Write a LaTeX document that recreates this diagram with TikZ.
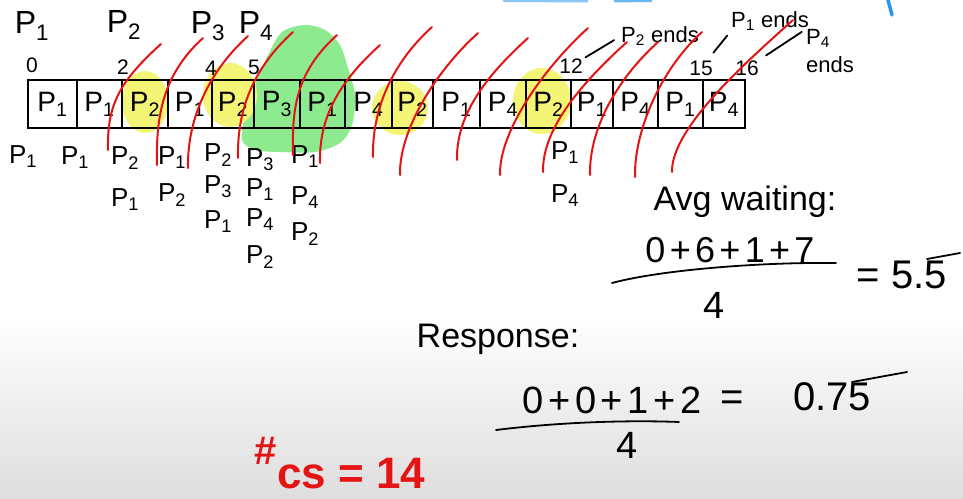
\documentclass[tikz,border=0pt]{standalone}
\usepackage{fontspec}
\setmainfont{Liberation Sans}
\usetikzlibrary{positioning,backgrounds}

\definecolor{penred}{RGB}{228,20,20}
\definecolor{hiyellow}{RGB}{244,244,118}
\definecolor{higreen}{RGB}{142,234,142}
\definecolor{penblue}{RGB}{40,150,235}

\newcommand{\proc}[1]{P\textsubscript{#1}}
\newcommand{\pl}{\hspace{0.12em}+\hspace{0.12em}}

\begin{document}
\begin{tikzpicture}[
    x=1pt, y=-1pt,
    hand/.style={font=\fontsize{#1}{#1}\selectfont, inner sep=0pt},
    hand/.default=26,
    cell/.style={
        draw=black,
        line width=1.4pt,
        minimum height=48pt,
        inner sep=0pt,
        font=\fontsize{28}{28}\selectfont
    },
    queue/.style={hand=26},
    tick/.style={hand=21},
    note/.style={hand=22, align=left, font=\fontsize{22}{28}\selectfont},
    calc/.style={hand=34, anchor=base},
    penline/.style={line width=1.8pt, line cap=round},
    cswitch/.style={draw=penred, line width=2pt, line cap=round}
]

\useasboundingbox (0,0) rectangle (963,498);

% gantt chart
\foreach \a/\b/\p [count=\i] in {28/77/1, 77/122/1, 122/168/2, 168/212/1, 212/254/2, 254/300/3,
    300/345/1, 345/392/4, 392/433/2, 433/480/1, 480/526/4, 526/571/2, 571/613/1, 613/658/4,
    658/703/1, 703/745/4}
    \node[cell, minimum width={(\b-\a)*1pt}] (c\i) at ({(\a+\b)/2},104) {\proc{\p}};

% arrivals
\node[hand=32] (arr1) at (32,26) {\proc{1}};
\node[hand=32] (arr2) at (124,25) {\proc{2}};
\node[hand=32] (arr3) at (208,26) {\proc{3}};
\node[hand=32] (arr4) at (256,26) {\proc{4}};

\node[tick] (t0) at (32,65) {0};
\node[tick] (t2) at (123,67) {2};
\node[tick] (t4) at (211,68) {4};
\node[tick] (t5) at (254,67) {5};
\node[tick] (t12) at (571,66) {12};
\node[tick] (t15) at (701,68) {15};
\node[tick] (t16) at (747,68) {16};

% ready queue under the chart
\foreach \x/\y/\p [count=\i] in {23/157/1, 75/158/1, 125/158/2, 125/200/1, 172/158/1, 172/195/2,
    218/155/2, 218/187/3, 218/222/1, 260/160/3, 260/190/1, 260/220/4, 260/257/2,
    305/157/1, 305/198/4, 305/234/2, 565/153/1, 565/196/4}
    \node[queue] (q\i) at (\x,\y) {\proc{\p}};

% completion notes
\node[note] (p2end) at (660,36) {\proc{2} ends};
\node[note] (p1end) at (770,21) {\proc{1} ends};
\node[note] (p4end) at (830,51) {\proc{4}\\ends};

\draw[penline, shorten <=3pt, shorten >=8pt] (t12) -- (p2end.west);
\draw[penline, shorten <=10pt, shorten >=6pt] (t15) -- (p1end.south west);
\draw[penline, shorten <=9pt, shorten >=5pt] (t16) -- (p4end.north west);

% averages
\node[calc] (avg) at (745,210) {Avg waiting:};
\node[calc, hand=36] (wnum) at (730,262) {0\pl 6\pl 1\pl 7};
\node[calc, hand=38] (wden) at (714,318) {4};
\node[calc, hand=40] (wres) at (902,288) {= 5.5};
\draw[penline] (612,283) .. controls (660,270) and (760,262) .. (836,263);
\draw[penline] (927,259) -- (960,253);

\node[calc] (resp) at (498,347) {Response:};
\node[calc, hand=38] (rnum) at (612,413) {0\pl 0\pl 1\pl 2};
\node[calc, hand=38] (rden) at (627,458) {4};
\node[calc, hand=40] (rres) at (796,410) {=\hspace{49pt}0.75};
\draw[penline] (496,430) .. controls (560,422) and (630,420) .. (679,422);
\draw[penline] (852,382) -- (907,372);

\node[calc, text=penred, font=\bfseries\fontsize{44}{44}\selectfont] (cs) at (340,488)
    {\raisebox{24pt}{\fontsize{40}{40}\selectfont\#}cs = 14};

% context switches
\foreach \bx/\by/\tx/\ty in {108/150/161/44, 157/165/203/38, 188/168/248/36, 238/158/293/32,
    293/155/337/35, 320/163/380/45, 373/157/432/27, 400/175/478/33, 457/160/528/38,
    500/175/588/28, 543/172/627/42, 590/175/658/42, 635/177/702/32, 672/172/793/20}
    \draw[cswitch] (\bx,\by) .. controls (\bx-1,\by-45) and (\tx-42,\ty+38) .. (\tx,\ty);

\begin{scope}[on background layer]
\fill[white] (0,0) rectangle (963,498);
\shade[top color=white, bottom color=black!13] (0,315) rectangle (963,498);
\fill[higreen] plot[smooth cycle] coordinates {(242,140) (245,115) (255,85) (268,55) (282,32)
    (305,25) (325,30) (340,45) (348,68) (355,95) (352,125) (340,143) (315,152) (280,152) (255,150)};
\fill[hiyellow] (145,102) ellipse [x radius=23, y radius=31];
\fill[hiyellow] (230,95) ellipse [x radius=27, y radius=32];
\fill[hiyellow] (400,108) ellipse [x radius=28, y radius=27];
\fill[hiyellow] (542,101) ellipse [x radius=29, y radius=33];
\draw[penblue!55, line width=3pt, line cap=round] (504,0.5) -- (587,1);
\draw[penblue!70, line width=3pt, line cap=round] (615,1) -- (651,0.5);
\draw[penblue, line width=3.5pt, line cap=round] (888,0) -- (892,15);
\end{scope}

\end{tikzpicture}
\end{document}
